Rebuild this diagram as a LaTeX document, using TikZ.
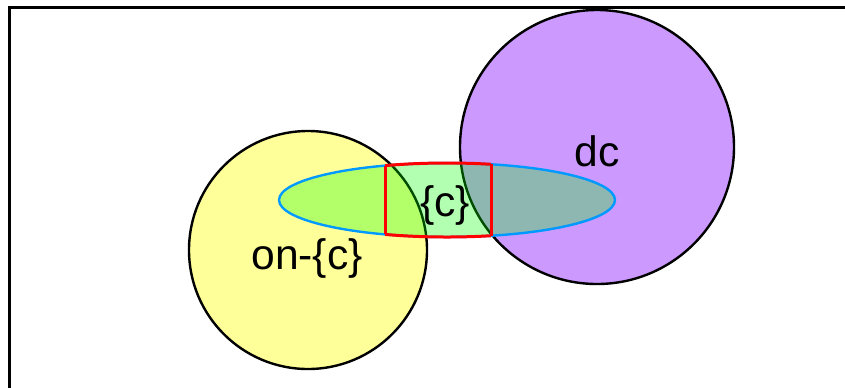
\documentclass[tikz,border=0pt]{standalone}
\usepackage{fontspec}
\setmainfont{Liberation Sans}
\begin{document}
\begin{tikzpicture}[x=0.5pt,y=-0.5pt,
  outl/.style={line width=1.2pt,draw=black},
  redline/.style={line width=1.5pt,draw=red},
  lbl/.style={font=\fontsize{21.3}{24}\selectfont,inner sep=0pt}]
\useasboundingbox (0,0) rectangle (845,387);
\fill[white] (0,0) rectangle (845,387);
\draw[line width=1.5pt] (9,400) -- (9,7) -- (860,7);
% circles
\filldraw[outl,fill={rgb,255:red,255;green,255;blue,153}] (308,250) circle[radius=119];
\filldraw[outl,fill={rgb,255:red,204;green,153;blue,255}] (597,147) circle[radius=137];
% ellipse
\fill[green,fill opacity=0.3] (447,200) ellipse[x radius=168,y radius=37];
\draw[line width=1.2pt,draw={rgb,255:red,0;green,153;blue,255}] (447,200) ellipse[x radius=168,y radius=37];
% red region
\begin{scope}
\clip (385,0) rectangle (491,400);
\draw[redline] (447,200) ellipse[x radius=168,y radius=37];
\end{scope}
\draw[redline] (385,165.6) -- (385,234.4);
\draw[redline] (491,164.3) -- (491,235.7);
\node[lbl] (dc) at (597,151) {dc};
\node[lbl] (c) at (445,205) {\{c\}};
\node[lbl] (on) at (307,258) {on-\{c\}};
\end{tikzpicture}
\end{document}
